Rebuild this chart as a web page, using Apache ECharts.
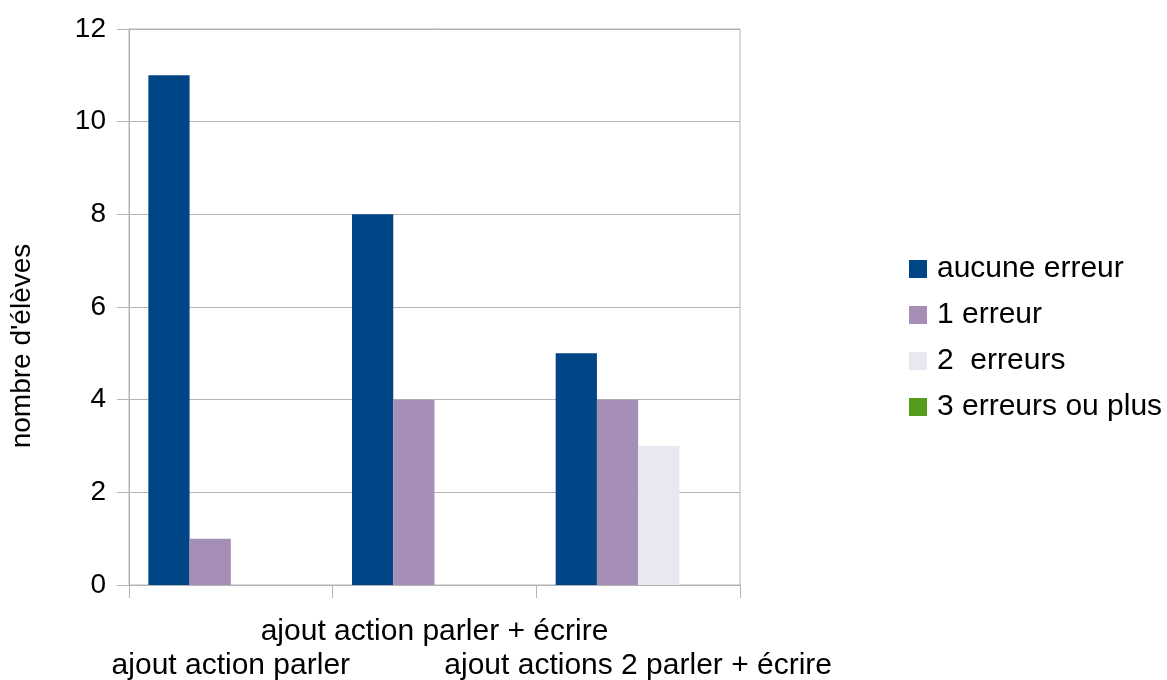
<!DOCTYPE html>
<html>
<head>
<meta charset="utf-8">
<script src="https://cdn.jsdelivr.net/npm/echarts@6/dist/echarts.min.js"></script>
<style>
  html, body { margin: 0; padding: 0; background: #fff; }
  #chart { width: 1167px; height: 680px; }
</style>
</head>
<body>
<div id="chart"></div>
<script>
var categories = ['ajout action parler', 'ajout action parler + écrire', 'ajout actions 2 parler + écrire'];
var seriesNames = ['aucune erreur', '1 erreur', '2  erreurs', '3 erreurs ou plus'];
var aucuneErreur = [11, 8, 5];
var uneErreur = [1, 4, 4];
var deuxErreurs = [0, 0, 3];
var troisErreurs = [0, 0, 0];
var yTicks = [0, 2, 4, 6, 8, 10, 12];

var myColor = ['#004586', '#a68fb7', '#eae7f0', '#579d1c'];
var font = "'Liberation Sans', Arial, sans-serif";
var gridColor = '#b3b3b3';

var chart = echarts.init(document.getElementById('chart'));

function bar(name, data) {
  return {
    name: name,
    type: 'bar',
    data: data,
    barGap: '0%',
    barCategoryGap: '19%'
  };
}

chart.setOption({
  color: myColor,
  animation: false,
  textStyle: { fontFamily: font, color: '#000' },
  grid: {
    left: 129,
    right: 427,
    top: 29,
    bottom: 95,
    outerBoundsMode: 'none',
    show: true,
    borderColor: gridColor,
    borderWidth: 1
  },
  legend: {
    orient: 'vertical',
    left: 909,
    top: 254,
    padding: 0,
    itemWidth: 18,
    itemHeight: 18,
    itemGap: 16,
    icon: 'rect',
    data: seriesNames,
    textStyle: { fontSize: 30, lineHeight: 30, color: '#000', fontFamily: font, padding: [0, 0, 0, 5] }
  },
  xAxis: {
    type: 'category',
    data: categories,
    axisLine: { lineStyle: { color: gridColor } },
    axisTick: { show: true, length: 13, lineStyle: { color: gridColor } },
    axisLabel: {
      interval: 0,
      hideOverlap: false,
      margin: 30,
      fontSize: 30,
      lineHeight: 34,
      color: '#000',
      fontFamily: font,
      formatter: function (value, idx) {
        return idx === 1 ? value : '\n' + value;
      }
    }
  },
  yAxis: {
    type: 'value',
    min: yTicks[0],
    max: yTicks[yTicks.length - 1],
    interval: 2,
    name: "nombre d'élèves",
    nameLocation: 'middle',
    nameGap: 93,
    nameTextStyle: { fontSize: 28, color: '#000', fontFamily: font, padding: [0, 78, 0, 0] },
    axisLine: { show: true, lineStyle: { color: gridColor } },
    axisTick: { show: true, length: 12, lineStyle: { color: gridColor } },
    splitLine: { show: true, lineStyle: { color: gridColor } },
    axisLabel: { margin: 23, fontSize: 28, color: '#000', fontFamily: font }
  },
  series: [
    bar(seriesNames[0], aucuneErreur),
    bar(seriesNames[1], uneErreur),
    bar(seriesNames[2], deuxErreurs),
    bar(seriesNames[3], troisErreurs)
  ]
});
</script>
</body>
</html>
